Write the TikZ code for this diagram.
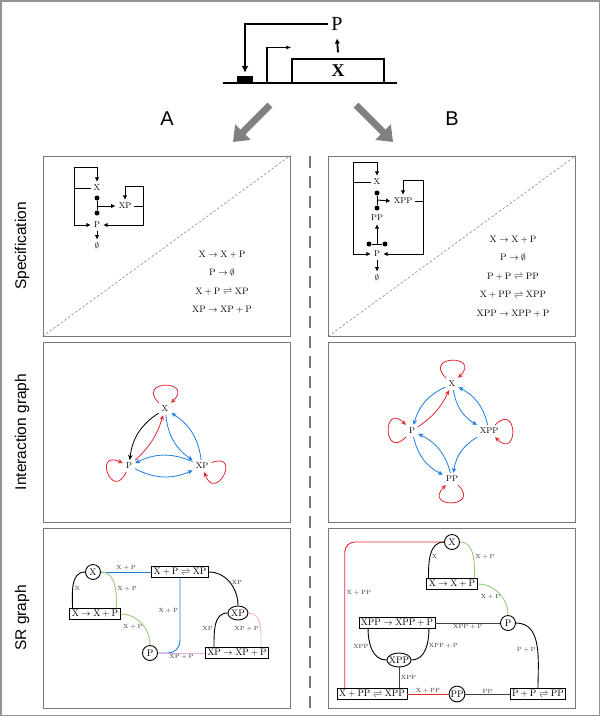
\documentclass[tikz,border=0pt]{standalone}
\usepackage{fontspec}
\newfontfamily\sansfam{Liberation Sans}
\newfontfamily\serffam{Liberation Serif}
\usetikzlibrary{arrows.meta,shapes.geometric}

\definecolor{actred}{RGB}{226,40,50}
\definecolor{actblue}{RGB}{28,125,225}
\definecolor{srgreen}{RGB}{150,205,120}
\definecolor{srpink}{RGB}{232,178,232}
\definecolor{framegray}{RGB}{120,120,120}

\newcommand{\spc}[1]{$\mathrm{#1}$}

\begin{document}
\begin{tikzpicture}[x=1pt,y=1pt,
    panel/.style={draw=framegray,line width=0.8pt,minimum width=247pt,minimum height=180pt,inner sep=0pt},
    rowlabel/.style={rotate=90,font=\sansfam\fontsize{15.5}{16}\selectfont},
    colabel/.style={font=\sansfam\fontsize{20}{20}\selectfont},
    spectip/.style={-{Latex[length=4.5pt,width=4.5pt]}},
    wire/.style={line width=1pt},
    dot/.style={circle,fill,inner sep=0pt,minimum size=5pt},
    eqns/.style={align=center,font=\fontsize{9.3}{18.5}\selectfont},
    act/.style={-{Stealth[length=5pt,width=4.5pt]},line width=0.8pt,bend right=25},
    selfloop/.style={-{Stealth[length=5pt,width=4.5pt]},line width=0.8pt,actred,distance=33pt},
    species/.style={circle,draw,line width=0.9pt,minimum size=15pt,inner sep=0.5pt,font=\fontsize{9.5}{10}\selectfont},
    cplx/.style={ellipse,draw,line width=0.9pt,minimum width=20pt,minimum height=14pt,inner xsep=-1.5pt,inner ysep=0pt,font=\fontsize{9.5}{10}\selectfont},
    reac/.style={draw,line width=0.6pt,inner sep=2pt,font=\fontsize{9.5}{10}\selectfont},
    lab/.style={font=\fontsize{6}{6}\selectfont,text=black!80,inner sep=1.5pt},
    sr/.style={line width=0.9pt}]

        \useasboundingbox (0,0) rectangle (600,-716);
        \draw[framegray!80,line width=1.5pt] (0.75,-0.75) rectangle (599.25,-715.25);

        \node[draw,line width=1.2pt,minimum width=92pt,minimum height=24pt,inner sep=0pt,
              font=\serffam\bfseries\fontsize{18}{18}\selectfont] (geneX) at (338,-71) {X};
        \node[inner sep=3pt,font=\serffam\fontsize{20}{20}\selectfont] (protP) at (337,-24) {P};
        \node[fill,minimum width=16pt,minimum height=7pt,inner sep=0pt] (oper) at (245,-79.5) {};
        \coordinate (dnaL) at (223,-83);
        \coordinate (dnaR) at (397,-83);
        \coordinate (tss) at (267,-83);
        \draw[line width=1.5pt] (dnaL) -- (dnaR);
        \draw[line width=1.2pt,-{Latex[length=5pt,width=4pt]}] (tss) |- ([yshift=11pt]geneX.north west);
        \draw[line width=1.5pt,-{Latex[length=7pt,width=7pt]}] (protP.west) -| ([yshift=3pt]oper.north);
        \draw[line width=1.8pt,-{Latex[length=5pt,width=5.5pt]}] ([yshift=6pt]geneX.north) -- ([yshift=-4.7pt]protP.south);

        \coordinate (fromA) at (270,-105);
        \coordinate (toA) at (233,-142);
        \coordinate (fromB) at (356,-105);
        \coordinate (toB) at (393,-142);
        \draw[gray,line width=7pt,-{Triangle[length=14pt,width=21pt]}] (fromA) -- (toA);
        \draw[gray,line width=7pt,-{Triangle[length=14pt,width=21pt]}] (fromB) -- (toB);
        \node[colabel] (labA) at (167,-119) {A};
        \node[colabel] (labB) at (452,-119) {B};

        \node[panel] (specA) at (166.5,-246) {};
        \node[panel] (specB) at (452,-246) {};
        \node[panel] (intA) at (166.5,-432) {};
        \node[panel] (intB) at (452,-432) {};
        \node[panel] (srA) at (166.5,-618) {};
        \node[panel] (srB) at (452,-618) {};
        \draw[framegray,dash pattern=on 2.5pt off 2pt,line width=0.5pt] (specA.south west) -- (specA.north east);
        \draw[framegray,dash pattern=on 2.5pt off 2pt,line width=0.5pt] (specB.south west) -- (specB.north east);
        \coordinate (sepTop) at (310,-156);
        \coordinate (sepBot) at (310,-708);
        \draw[framegray,line width=1.6pt,dash pattern=on 12pt off 8pt] (sepTop) -- (sepBot);

        \node[rowlabel] at (22,-246) {Specification};
        \node[rowlabel] at (22,-432) {Interaction graph};
        \node[rowlabel] at (22,-618) {SR graph};

        % specification A
        \begin{scope}[every node/.style={font=\fontsize{8.5}{9}\selectfont,inner sep=3pt}]
          \node (sX)  at (97,-188)  {X};
          \node (sXP) at (125,-206) {XP};
          \node (sP)  at (97,-225)  {P};
          \node (sE)  at (97,-246)  {$\emptyset$};
          \node[dot] (sd1) at (97,-198) {};
          \node[dot] (sd2) at (97,-213) {};
        \end{scope}
        \coordinate (lpA) at (74,-188);
        \coordinate (topA) at (74,-167);
        \coordinate (lpB) at (143,-206);
        \coordinate (topB) at (143,-186);
        \coordinate (midA) at (97,-206);
        \begin{scope}[wire]
          \draw[spectip] (sX.west) -- (lpA) -- (topA) -| (sX.north);
          \draw[spectip] (lpA) |- (sP.west);
          \draw (sd1) -- (sd2);
          \draw[spectip] (midA) -- (sXP.west);
          \draw[spectip] (sXP.east) -- (lpB) -- (topB) -| (sXP.north);
          \draw[spectip] (lpB) |- (sP.east);
          \draw[spectip] (sP.south) -- (sE.north);
        \end{scope}
        \node[eqns] (eqA) at (222,-282) {\spc{X\to X+P}\\ \spc{P\to\emptyset}\\
          \spc{X+P\rightleftharpoons XP}\\ \spc{XP\to XP+P}};

        % specification B
        \begin{scope}[every node/.style={font=\fontsize{8.5}{9}\selectfont,inner sep=3pt}]
          \node (tX)   at (377,-182) {X};
          \node (tXPP) at (403,-201) {XPP};
          \node (tPP)  at (377,-218) {PP};
          \node (tP)   at (377,-254) {P};
          \node (tE)   at (377,-278) {$\emptyset$};
          \node[dot] (td1) at (377,-193) {};
          \node[dot] (td2) at (377,-208) {};
          \node[dot] (td3) at (369,-244) {};
          \node[dot] (td4) at (385,-244) {};
        \end{scope}
        \coordinate (lpC) at (353,-182);
        \coordinate (topC) at (353,-162);
        \coordinate (lpD) at (423,-201);
        \coordinate (topD) at (423,-180);
        \coordinate (midC) at (377,-200);
        \coordinate (midD) at (377,-244);
        \begin{scope}[wire]
          \draw[spectip] (tX.west) -- (lpC) -- (topC) -| (tX.north);
          \draw[spectip] (lpC) |- (tP.west);
          \draw (td1) -- (td2);
          \draw[spectip] (midC) -- (tXPP.west);
          \draw[spectip] (tXPP.east) -- (lpD) -- (topD) -| (tXPP.north);
          \draw[spectip] (lpD) |- (tP.east);
          \draw (td3) -- (td4);
          \draw[spectip] (midD) -- (tPP.south);
          \draw[spectip] (tP.south) -- (tE.north);
        \end{scope}
        \node[eqns] (eqB) at (513,-276.5) {\spc{X\to X+P}\\ \spc{P\to\emptyset}\\
          \spc{P+P\rightleftharpoons PP}\\ \spc{X+PP\rightleftharpoons XPP}\\ \spc{XPP\to XPP+P}};

        % interaction graphs
        \begin{scope}[every node/.style={font=\fontsize{8.5}{9}\selectfont,inner sep=3pt}]
          \node (iX)   at (165,-409) {X};
          \node (iP)   at (129,-466) {P};
          \node (iXP)  at (202,-466) {XP};
          \node (jX)   at (452,-384) {X};
          \node (jP)   at (412,-431) {P};
          \node (jXPP) at (489,-431) {XPP};
          \node (jPP)  at (452,-479) {PP};
        \end{scope}
        \path (iX)  edge[act] (iP)
              (iP)  edge[act,actred,bend right=15] (iX)
              (iX)  edge[act,actblue] (iXP)
              (iXP) edge[act,actblue] (iX)
              (iXP) edge[act,actblue] (iP)
              (iP)  edge[act,actblue] (iXP);
        \path (iX)  edge[selfloop,out=135,in=45] (iX)
              (iP)  edge[selfloop,out=245,in=155] (iP)
              (iXP) edge[selfloop,out=20,in=-70] (iXP);
        \path (jX)   edge[act,actblue] (jP)
              (jP)   edge[act,actred,bend right=15] (jX)
              (jX)   edge[act,actblue] (jXPP)
              (jXPP) edge[act,actblue] (jX)
              (jXPP) edge[act,actblue] (jPP)
              (jP)   edge[act,actblue] (jPP)
              (jPP)  edge[act,actblue] (jP);
        \path (jX)   edge[selfloop,out=135,in=45] (jX)
              (jP)   edge[selfloop,out=225,in=135] (jP)
              (jXPP) edge[selfloop,out=45,in=-45] (jXPP)
              (jPP)  edge[selfloop,out=-45,in=-135] (jPP);

        % SR graph A
        \node[species] (rX)  at (93,-572)  {X};
        \node[species] (rP)  at (150,-653) {P};
        \node[cplx]    (rXP) at (238,-613) {XP};
        \node[reac] (rc1) at (180,-572) {\spc{X+P\rightleftharpoons XP}};
        \node[reac] (rc2) at (95,-614)  {\spc{X\to X+P}};
        \node[reac] (rc3) at (237,-653) {\spc{XP\to XP+P}};
        \begin{scope}[sr]
          \draw (rX.west) to[out=180,in=90] node[lab,pos=0.6,right] {X} ([xshift=3pt]rc2.north west);
          \draw[actblue] (rX.east) -- node[lab,above] {\spc{X+P}} (rc1.west);
          \draw[srgreen] (rX.east) to[out=0,in=90] node[lab,pos=0.6,right] {\spc{X+P}} ([xshift=-4pt]rc2.north east);
          \draw[srgreen] (rc2.east) to[out=0,in=90] node[lab,pos=0.6,left] {\spc{X+P}} (rP.north);
          \draw[actblue,rounded corners=12pt] (rc1.south) |- node[lab,pos=0.22,left] {\spc{X+P}} (rP.east);
          \draw (rc1.east) to[out=0,in=90] node[lab,pos=0.5,right] {XP} (rXP.north);
          \draw (rXP.west) to[out=180,in=90] node[lab,pos=0.6,left] {XP} ([xshift=9pt]rc3.north west);
          \draw[srpink] (rXP.east) to[out=0,in=90] node[lab,pos=0.6,left] {\spc{XP+P}} ([xshift=-8pt]rc3.north east);
          \draw[srpink] (rP.east) -- node[lab,below=-1pt] {\spc{XP+P}} (rc3.west);
        \end{scope}

        % SR graph B
        \node[species] (qX)   at (452,-542) {X};
        \node[species] (qP)   at (508,-623) {P};
        \node[species] (qPP)  at (457,-694) {PP};
        \node[cplx]    (qXPP) at (399,-660) {XPP};
        \node[reac] (qc1) at (452,-584) {\spc{X\to X+P}};
        \node[reac] (qc2) at (397,-623) {\spc{XPP\to XPP+P}};
        \node[reac] (qc3) at (372,-694) {\spc{X+PP\rightleftharpoons XPP}};
        \node[reac] (qc4) at (538,-694) {\spc{P+P\rightleftharpoons PP}};
        \begin{scope}[sr]
          \draw[actred,rounded corners=10pt] (qX.west) -| node[lab,pos=0.675,right] {\spc{X+PP}} ([xshift=8pt]qc3.north west);
          \draw (qX.west) to[out=180,in=90] node[lab,pos=0.55,right] {X} ([xshift=2pt]qc1.north west);
          \draw[srgreen] (qX.east) to[out=0,in=90] node[lab,pos=0.55,right] {\spc{X+P}} ([xshift=-3pt]qc1.north east);
          \draw[srgreen] (qc1.east) to[out=0,in=90] node[lab,pos=0.6,left] {\spc{X+P}} (qP.north);
          \draw[black!75] (qc2.east) -- node[lab,below=-1pt] {\spc{XPP+P}} (qP.west);
          \draw (qP.east) to[out=0,in=90] node[lab,pos=0.55,left] {\spc{P+P}} (qc4.north);
          \draw ([xshift=9.5pt]qc2.south west) to[out=-90,in=180] node[lab,pos=0.4,left] {XPP} (qXPP.west);
          \draw ([xshift=-6.5pt]qc2.south east) to[out=-90,in=0] node[lab,pos=0.4,right] {\spc{XPP+P}} (qXPP.east);
          \draw[black!75] (qXPP.south) -- node[lab,right] {XPP} (qXPP.south |- qc3.north);
          \draw[actred] (qc3.east) -- node[lab,above=-1pt] {\spc{X+PP}} (qPP.west);
          \draw[black!75] (qPP.east) -- node[lab,above=-1pt] {PP} (qc4.west);
        \end{scope}

      \end{tikzpicture}
\end{document}
